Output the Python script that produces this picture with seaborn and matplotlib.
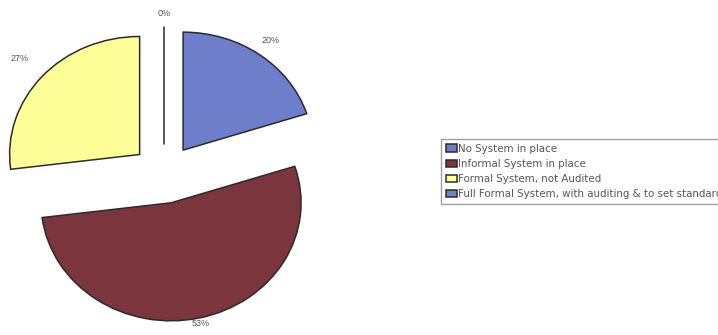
import matplotlib
matplotlib.use("Agg")
import numpy as np
import matplotlib.pyplot as plt
import seaborn as sns

categories = [
    "No System in place",
    "Informal System in place",
    "Formal System, not Audited",
    "Full Formal System, with auditing & to set standards",
]
shares = [20, 53, 27, 0]
colors = ["#6e7ecb", "#7a363c", "#ffff99", "#6a88c4"]
# distance of each percentage label from its wedge tip, in radii
label_dist = [1.15, 1.05, 1.23, 1.11]

sns.set_theme(style="white")
plt.rcParams["font.family"] = ["Liberation Sans", "DejaVu Sans"]

fig = plt.figure(figsize=(7.18, 3.35), dpi=100)
ax = fig.add_axes([0, 0, 1, 1])

wedges, texts, autotexts = ax.pie(
    shares,
    colors=colors,
    startangle=90,
    counterclock=False,
    explode=[0.25] * len(shares),
    autopct="%1.0f%%",
    pctdistance=1.15,
    wedgeprops=dict(edgecolor="#2b2b2b", linewidth=1.1),
    textprops=dict(fontsize=6.5, color="#555555"),
)

for w, t, d in zip(wedges, autotexts, label_dist):
    mid = np.deg2rad((w.theta1 + w.theta2) / 2)
    x0, y0 = w.center
    t.set_position((x0 + w.r * d * np.cos(mid), y0 + w.r * d * np.sin(mid)))

# pie centre at (164, 174) px from top-left; radii 130 px wide, 118 px tall
W, H = 718, 335
cx, cy, rx, ry = 164, 335 - 174, 130, 118
ax.set_aspect("auto")
ax.set_xlim((0 - cx) / rx, (W - cx) / rx)
ax.set_ylim((0 - cy) / ry, (H - cy) / ry)
ax.axis("off")

leg = fig.legend(
    wedges,
    categories,
    loc="upper left",
    bbox_to_anchor=(441 / W, 1 - 139 / H),
    prop=dict(family="DejaVu Sans", size=7.4),
    frameon=True,
    fancybox=False,
    edgecolor="#888888",
    handlelength=1.1,
    handleheight=0.7,
    handletextpad=0.15,
    labelspacing=0.5,
    borderpad=0.45,
    borderaxespad=0,
)
leg.get_frame().set_linewidth(1.0)
for t in leg.get_texts():
    t.set_color("#555555")

fig.savefig("out.png", dpi=100)
